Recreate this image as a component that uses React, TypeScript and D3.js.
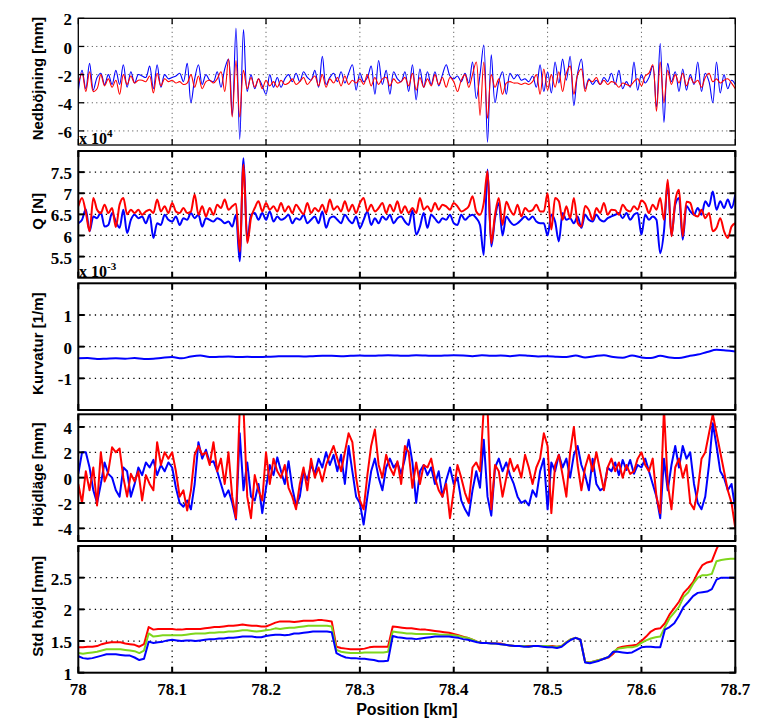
import React from "react";
import * as d3 from "d3";

// ---------- data ----------
const xTickValues = [78, 78.1, 78.2, 78.3, 78.4, 78.5, 78.6, 78.7];
const startKm = 78;
const denseStepKm = 0.004; // panels 1, 2, 4
const stdStepKm = 0.005; // panel 5
const kurvStepKm = 0.01; // panel 3

const nedBlue = [
  -3.2, -1.7, -3.0, -1.2, -3.1, -2.2, -1.9, -2.7, -2.0, -2.7,
  -1.7, -2.7, -1.3, -2.9, -1.8, -2.6, -2.0, -2.1, -2.2, -1.4,
  -3.0, -1.3, -2.9, -2.0, -2.3, -2.2, -2.1, -1.9, -2.5, -1.2,
  -4.0, -2.3, -1.3, -2.7, -2.0, -2.4, -2.5, -1.8, -2.9, -1.6,
  -0.9, -4.9, 1.3, -6.6, 1.2, -3.2, -2.0, -3.0, -2.3, -2.8,
  -3.4, -2.0, -2.9, -2.2, -2.9, -2.3, -2.0, -2.5, -1.9, -2.5,
  -1.8, -2.2, -2.4, -1.7, -2.9, -0.7, -2.7, -2.2, -1.9, -2.5,
  -1.8, -2.6, -1.9, -1.3, -3.1, -1.9, -2.5, -2.2, -1.4, -3.4,
  -1.0, -2.7, -1.7, -3.4, -1.8, -2.3, -2.5, -1.8, -3.2, -1.3,
  -3.8, -1.6, -2.9, -1.8, -2.7, -1.8, -2.8, -2.0, -1.3, -2.1,
  -2.3, -2.1, -2.5, -1.9, -2.6, -1.1, -3.7, -2.0, 0.1, -6.8,
  -0.6, -4.0, -2.5, -1.8, -3.4, -1.9, -2.3, -2.0, -2.4, -2.3,
  -2.5, -2.1, -2.9, -1.3, -3.2, -1.8, -3.3, -1.1, -2.6, -0.9,
  -2.4, -0.7, -4.2, -1.9, -0.9, -3.0, -2.3, -2.7, -2.4, -2.7,
  -2.2, -2.5, -1.9, -2.7, -1.7, -3.0, -2.5, -2.9, -1.1, -3.1,
  -2.0, -2.6, -2.2, -1.4, -4.3, 0.2, -5.4, -1.2, -2.5, -1.8,
  -3.2, -1.6, -3.1, -2.0, -2.7, -1.1, -3.2, -1.9, -2.5, -4.0,
  -1.1, -3.3, -2.0, -3.0, -2.4, -2.7,
];

const nedRed = [
  -2.7, -1.9, -3.2, -1.8, -3.2, -3.0, -2.0, -2.8, -2.3, -2.9,
  -2.4, -3.4, -2.0, -2.7, -2.1, -2.6, -2.4, -2.4, -2.5, -2.1,
  -3.3, -1.9, -2.8, -2.3, -2.5, -2.4, -2.6, -2.5, -2.7, -2.6,
  -2.0, -2.9, -2.1, -3.0, -2.5, -2.4, -2.6, -2.3, -1.8, -3.2,
  -0.9, -5.0, -1.0, -5.0, -1.7, -3.0, -2.2, -2.9, -2.3, -3.0,
  -2.4, -2.8, -2.5, -2.9, -2.4, -2.7, -2.6, -2.3, -2.7, -2.5,
  -2.2, -2.7, -2.4, -2.1, -2.8, -2.0, -2.9, -2.3, -2.6, -2.2,
  -2.8, -2.1, -2.7, -2.4, -2.6, -2.3, -2.7, -2.0, -2.8, -2.2,
  -2.7, -2.3, -2.2, -2.8, -2.3, -2.6, -2.5, -2.2, -2.8, -1.9,
  -3.1, -2.2, -2.9, -2.3, -2.8, -2.0, -2.7, -2.2, -2.9, -2.2,
  -2.5, -3.2, -2.4, -2.0, -2.9, -2.0, -1.1, -4.9, -1.1, -5.1,
  -2.0, -2.9, -2.3, -3.4, -2.6, -2.5, -2.6, -2.6, -2.7, -2.6,
  -2.7, -2.5, -2.0, -3.4, -1.6, -3.1, -2.0, -2.9, -1.8, -3.2,
  -1.9, -1.4, -3.4, -2.0, -1.6, -3.2, -2.4, -2.5, -2.2, -2.7,
  -2.4, -2.7, -2.5, -2.6, -2.9, -2.6, -2.7, -2.8, -2.5, -2.3,
  -2.8, -2.1, -1.9, -1.3, -4.6, -1.1, -4.0, -1.7, -2.7, -2.0,
  -2.6, -1.9, -2.8, -2.2, -2.6, -2.4, -2.9, -2.2, -1.9, -2.5,
  -2.3, -2.6, -2.4, -2.3, -2.6, -3.0,
];

const qBlue = [
  6.29, 6.37, 6.62, 6.1, 6.45, 6.41, 6.55, 6.21, 6.25, 6.53,
  6.33, 6.18, 6.61, 6.06, 6.37, 6.49, 6.41, 6.45, 6.29, 6.49,
  5.94, 6.29, 6.25, 6.49, 6.37, 6.33, 6.45, 6.25, 6.41, 6.37,
  6.53, 6.41, 6.49, 6.21, 6.41, 6.37, 6.33, 6.41, 6.37, 6.29,
  6.33, 6.21, 6.49, 5.39, 7.83, 5.86, 6.49, 6.53, 6.37, 6.53,
  6.37, 6.57, 6.33, 6.45, 6.37, 6.41, 6.49, 6.29, 6.41, 6.37,
  6.49, 6.29, 6.37, 6.45, 6.29, 6.57, 6.18, 6.41, 6.45, 6.37,
  6.29, 6.49, 6.37, 6.29, 6.45, 6.18, 6.37, 6.57, 6.25, 6.41,
  6.29, 6.45, 6.37, 6.49, 6.29, 6.41, 6.45, 6.33, 6.25, 6.6,
  6.02, 6.21, 6.53, 6.18, 6.49, 6.4, 6.3, 6.41, 6.37, 6.49,
  6.29, 6.25, 6.49, 6.37, 6.45, 6.49, 6.41, 6.25, 5.54, 7.56,
  5.74, 6.41, 6.77, 6.0, 6.45, 6.33, 6.25, 6.29, 6.37, 6.45,
  6.37, 6.45, 6.33, 6.29, 6.29, 6.0, 6.49, 6.33, 5.86, 6.53,
  6.37, 6.41, 6.29, 6.45, 6.18, 6.49, 6.37, 6.33, 6.49, 6.37,
  6.33, 6.41, 6.45, 6.49, 6.53, 6.41, 6.53, 6.37, 6.49, 6.53,
  6.02, 6.49, 6.37, 6.45, 6.37, 5.58, 6.1, 7.24, 6.0, 6.73,
  6.89, 5.9, 6.7, 6.57, 6.49, 6.65, 6.49, 6.81, 6.69, 7.04,
  6.61, 6.81, 6.65, 6.85, 6.65, 6.97,
];

const qRed = [
  6.69, 6.89, 6.55, 6.1, 6.89, 6.61, 6.53, 6.73, 6.53, 6.65,
  6.2, 6.73, 6.89, 6.5, 6.61, 6.53, 6.61, 6.49, 6.57, 6.61,
  6.53, 6.85, 6.57, 6.69, 6.53, 6.77, 6.57, 6.53, 6.65, 6.53,
  6.57, 6.97, 6.49, 6.69, 6.45, 6.65, 6.49, 6.73, 6.65, 6.85,
  6.61, 6.69, 6.75, 5.62, 7.68, 5.82, 6.41, 6.65, 6.81, 6.57,
  6.77, 6.61, 6.69, 6.57, 6.77, 6.57, 6.69, 6.53, 6.73, 6.61,
  6.5, 6.77, 6.53, 6.65, 6.57, 6.73, 6.53, 6.85, 6.61, 6.69,
  6.57, 6.81, 6.57, 6.73, 6.53, 6.77, 6.89, 6.57, 6.73, 6.57,
  6.65, 6.77, 6.53, 6.73, 6.57, 6.81, 6.53, 6.69, 6.53, 6.65,
  6.53, 6.89, 6.61, 6.69, 6.57, 6.77, 6.61, 6.73, 6.69, 6.61,
  6.77, 6.69, 6.57, 6.61, 6.69, 6.93, 6.57, 6.49, 6.77, 7.52,
  5.82, 6.49, 6.89, 6.25, 6.8, 6.61, 6.49, 6.73, 6.45, 6.65,
  6.57, 6.6, 6.73, 6.57, 6.57, 7.0, 6.14, 6.89, 6.81, 6.37,
  6.69, 6.41, 6.89, 6.3, 6.21, 6.7, 6.6, 6.37, 6.65, 6.53,
  6.77, 6.49, 6.61, 6.6, 6.49, 6.73, 6.61, 6.57, 6.69, 6.61,
  6.83, 6.75, 6.53, 6.73, 6.61, 6.89, 6.37, 7.32, 5.98, 6.81,
  7.08, 5.98, 6.8, 6.77, 6.49, 6.45, 6.61, 6.41, 6.53, 6.1,
  6.18, 6.41, 6.1, 5.94, 6.21, 6.29,
];

const kurvBlue = [
  -0.37, -0.36, -0.39, -0.38, -0.37, -0.38, -0.36, -0.39, -0.38, -0.35,
  -0.33, -0.37, -0.31, -0.28, -0.33, -0.32, -0.31, -0.33, -0.32, -0.33,
  -0.32, -0.31, -0.30, -0.30, -0.31, -0.30, -0.29, -0.29, -0.30, -0.29,
  -0.28, -0.29, -0.28, -0.27, -0.28, -0.29, -0.27, -0.28, -0.29, -0.28,
  -0.27, -0.28, -0.30, -0.27, -0.29, -0.28, -0.30, -0.27, -0.29, -0.31,
  -0.30, -0.32, -0.33, -0.28, -0.34, -0.30, -0.27, -0.33, -0.35, -0.28,
  -0.34, -0.36, -0.29, -0.34, -0.36, -0.30, -0.25, -0.17, -0.10, -0.12,
  -0.15,
];

const hojdBlue = [
  0.3, 2.0, 2.0, 0.8, -1.0, -2.0, -0.5, 1.2, 0.3, 0.0,
  -1.0, -1.5, 0.8, 0.5, -1.5, -0.5, 0.8, 0.2, 1.2, 0.8,
  1.4, 0.2, 1.0, 0.5, 1.2, 0.8, -0.8, -2.0, -2.3, -1.8,
  -2.5, -0.5, 2.8, 1.5, 2.2, 1.2, 1.3, 0.5, -0.5, -1.5,
  -1.0, -2.0, -3.3, 3.5, -1.0, 1.2, -1.5, -1.8, -0.5, -2.8,
  -0.8, 1.0, 0.2, 1.6, 0.5, -0.5, 1.3, -0.8, -2.2, -1.5,
  0.5, -0.2, 1.0, 0.3, 1.5, 0.8, 2.0, 1.0, 1.8, 0.5,
  1.8, -0.5, 2.5, 0.5, -1.5, -2.0, -3.7, -1.5, 0.5, 1.5,
  0.0, -1.0, 0.8, 1.5, 0.8, 1.2, 0.3, 1.5, 3.0, 1.2,
  -2.0, 0.5, 1.0, 0.2, 0.8, -0.5, 0.5, -1.5, -0.2, 0.8,
  -0.5, 0.0, -1.8, -2.5, -3.0, -1.0, 0.5, -0.8, 3.0, -1.5,
  -3.0, 0.8, 1.5, 0.5, 1.2, 0.2, -0.5, -1.5, -2.0, -1.8,
  -2.2, -1.0, -1.5, 0.5, 1.5, -2.5, 1.2, 0.5, 1.8, 0.8,
  1.5, 0.0, 1.8, 2.5, 1.0, 0.2, -1.0, 1.5, -0.5, -1.0,
  -0.8, 0.8, 0.5, 1.2, 0.2, 1.4, 0.6, 1.4, 0.3, 1.0,
  0.8, 1.5, 0.5, -0.5, -1.5, -3.2, 1.5, -1.0, 1.0, 2.5,
  0.8, 2.5, 1.5, 2.0, -0.5, -2.0, -2.5, -1.5, 1.0, 4.3,
  2.5, 0.5, 0.0, -1.0, -0.5, -2.5,
];

const hojdRed = [
  -0.5, -2.0, 0.5, -1.0, 0.8, -2.2, 2.0, -0.3, 0.5, 2.4,
  2.0, 2.3, 0.0, -1.5, 0.3, -0.3, 0.5, -1.8, 0.2, -0.5,
  -1.0, 2.8, 1.0, 2.0, 1.5, 2.0, 0.5, -1.5, -1.0, -2.6,
  -1.0, 1.8, 2.5, 1.8, 2.0, 1.0, 2.8, 0.5, 1.5, -0.5,
  2.0, -1.5, -3.2, 5.5, 5.5, -1.5, -3.2, 0.2, -1.0, -1.8,
  2.0, -0.5, 1.5, 0.5, 0.0, 1.0, -0.8, -1.5, -2.5, -0.5,
  0.8, -1.0, 1.5, 0.0, 0.8, -0.3, 1.0, 1.8, 2.5, 1.5,
  0.5, 2.0, 3.5, 2.8, 0.0, -1.8, -2.5, 0.2, 2.5, 3.8,
  1.0, 0.0, 1.8, 0.8, 0.2, 1.3, -0.5, 2.5, 2.0, -0.8,
  1.2, -0.5, 1.0, 0.8, 1.5, 0.0, -1.0, -1.5, -0.5, -3.2,
  -1.0, 1.0, 0.0, -1.2, -2.0, 0.8, 1.2, 0.5, 5.5, 5.5,
  -2.5, 1.0, 0.5, -1.5, 0.0, 1.5, 0.5, 1.0, 0.0, 1.8,
  0.8, -0.5, 0.8, 1.5, 3.5, 2.5, -2.8, 1.0, 1.8, 0.2,
  -1.5, 2.0, 4.0, 1.0, -1.0, 0.8, 1.8, 0.5, 2.0, 0.5,
  -1.0, 0.8, 1.5, 0.5, 1.2, 0.0, 1.0, 0.3, 0.5, 1.5,
  2.0, 1.0, 0.5, 1.5, -1.5, -2.8, 5.5, -0.5, -2.5, 0.8,
  1.5, 0.0, 1.0, -2.0, -2.5, -1.0, 1.5, 2.0, 3.5, 5.0,
  3.5, 2.0, 0.5, -1.0, -2.0, -4.0,
];

const stdRed = [
  1.40, 1.40, 1.41, 1.41, 1.42, 1.45, 1.47, 1.48, 1.48, 1.48,
  1.46, 1.45, 1.44, 1.41, 1.45, 1.72, 1.68, 1.69, 1.69, 1.69,
  1.69, 1.68, 1.68, 1.69, 1.69, 1.69, 1.69, 1.70, 1.71, 1.72,
  1.72, 1.73, 1.74, 1.74, 1.75, 1.76, 1.75, 1.74, 1.74, 1.73,
  1.73, 1.76, 1.79, 1.81, 1.81, 1.81, 1.80, 1.81, 1.82, 1.82,
  1.82, 1.83, 1.83, 1.82, 1.81, 1.41, 1.39, 1.38, 1.37, 1.37,
  1.37, 1.38, 1.40, 1.41, 1.41, 1.41, 1.41, 1.73, 1.72, 1.71,
  1.70, 1.70, 1.69, 1.68, 1.68, 1.67, 1.66, 1.65, 1.64, 1.63,
  1.61, 1.59, 1.57, 1.55, 1.52, 1.49, 1.47, 1.47, 1.47, 1.46,
  1.46, 1.44, 1.43, 1.42, 1.42, 1.42, 1.42, 1.42, 1.42, 1.42,
  1.42, 1.42, 1.41, 1.42, 1.48, 1.53, 1.55, 1.52, 1.17, 1.16,
  1.18, 1.20, 1.22, 1.24, 1.30, 1.39, 1.41, 1.42, 1.43, 1.44,
  1.50, 1.57, 1.65, 1.69, 1.70, 1.78, 1.92, 2.02, 2.12, 2.26,
  2.34, 2.43, 2.58, 2.70, 2.74, 2.76, 2.95, 3.1, 3.2, 3.3,
  3.4,
];

const stdGreen = [
  1.31, 1.30, 1.31, 1.32, 1.33, 1.35, 1.37, 1.37, 1.37, 1.37,
  1.36, 1.35, 1.34, 1.31, 1.35, 1.62, 1.57, 1.58, 1.59, 1.59,
  1.59, 1.59, 1.59, 1.60, 1.61, 1.62, 1.62, 1.62, 1.63, 1.63,
  1.64, 1.64, 1.65, 1.65, 1.66, 1.67, 1.67, 1.66, 1.65, 1.66,
  1.67, 1.68, 1.70, 1.69, 1.70, 1.71, 1.71, 1.72, 1.73, 1.74,
  1.74, 1.74, 1.74, 1.74, 1.73, 1.36, 1.33, 1.32, 1.31, 1.31,
  1.31, 1.32, 1.32, 1.32, 1.32, 1.32, 1.33, 1.65, 1.64, 1.63,
  1.62, 1.62, 1.61, 1.61, 1.61, 1.61, 1.61, 1.60, 1.60, 1.60,
  1.59, 1.58, 1.56, 1.55, 1.52, 1.49, 1.47, 1.47, 1.46, 1.46,
  1.45, 1.44, 1.43, 1.42, 1.42, 1.42, 1.41, 1.42, 1.42, 1.42,
  1.42, 1.41, 1.41, 1.42, 1.48, 1.53, 1.55, 1.52, 1.17, 1.16,
  1.18, 1.20, 1.22, 1.25, 1.33, 1.38, 1.39, 1.40, 1.40, 1.42,
  1.47, 1.51, 1.54, 1.56, 1.57, 1.72, 1.86, 1.95, 2.04, 2.20,
  2.27, 2.40, 2.50, 2.54, 2.54, 2.56, 2.76, 2.78, 2.79, 2.80,
  2.80,
];

const stdBlue = [
  1.26, 1.23, 1.22, 1.23, 1.25, 1.27, 1.29, 1.29, 1.29, 1.28,
  1.27, 1.27, 1.24, 1.20, 1.22, 1.49, 1.47, 1.48, 1.49, 1.51,
  1.52, 1.51, 1.50, 1.51, 1.51, 1.50, 1.51, 1.52, 1.53, 1.53,
  1.54, 1.54, 1.55, 1.55, 1.56, 1.57, 1.57, 1.57, 1.56, 1.56,
  1.58, 1.59, 1.60, 1.60, 1.59, 1.60, 1.62, 1.62, 1.63, 1.64,
  1.65, 1.65, 1.65, 1.65, 1.64, 1.31, 1.27, 1.24, 1.23, 1.23,
  1.22, 1.22, 1.21, 1.20, 1.18, 1.18, 1.19, 1.58, 1.56, 1.55,
  1.54, 1.54, 1.53, 1.54, 1.55, 1.56, 1.57, 1.57, 1.57, 1.57,
  1.56, 1.55, 1.53, 1.52, 1.50, 1.48, 1.47, 1.47, 1.46, 1.46,
  1.45, 1.44, 1.43, 1.42, 1.42, 1.41, 1.41, 1.42, 1.42, 1.41,
  1.40, 1.40, 1.39, 1.41, 1.47, 1.52, 1.55, 1.52, 1.16, 1.15,
  1.17, 1.19, 1.22, 1.25, 1.33, 1.33, 1.32, 1.31, 1.32, 1.36,
  1.40, 1.41, 1.41, 1.40, 1.40, 1.68, 1.72, 1.78, 1.90, 2.04,
  2.12, 2.21, 2.26, 2.27, 2.28, 2.32, 2.47, 2.50, 2.50, 2.50,
  2.50,
];

const panelLabels = ["Nedböjning [mm]", "Q [N]", "Kurvatur [1/m]", "Höjdläge [mm]", "Std höjd [mm]"];
const panelYTicks = [
  [-6, -4, -2, 0, 2],
  [5.5, 6, 6.5, 7, 7.5],
  [-1, 0, 1],
  [-4, -2, 0, 2, 4],
  [1, 1.5, 2, 2.5],
];
const panelDomains: [number, number][] = [
  [-7, 2],
  [5, 8],
  [-2, 2],
  [-5, 5],
  [1, 3],
];
const xAxisLabel = "Position [km]";

// ---------- layout ----------
const W = 774;
const H = 727;
const PLOT_L = 78.3;
const PLOT_R = 735.3;
const panelTops = [18.3, 151, 283.3, 414.3, 546];
const PANEL_H = 126.7;

const BLUE = "#0000ff";
const RED = "#ff0000";
const GREEN = "#7fd61c";

const SERIF = "Liberation Serif, Times New Roman, serif";
const SANS = "Liberation Sans, Arial, Helvetica, sans-serif";

type Series = { values: number[]; step: number; color: string; width: number };

const x = d3.scaleLinear().domain([78, 78.7]).range([PLOT_L, PLOT_R]);

const panelSeries: Series[][] = [
  [
    { values: nedBlue, step: denseStepKm, color: BLUE, width: 1.1 },
    { values: nedRed, step: denseStepKm, color: RED, width: 1.1 },
  ],
  [
    { values: qBlue, step: denseStepKm, color: BLUE, width: 2 },
    { values: qRed, step: denseStepKm, color: RED, width: 2 },
  ],
  [{ values: kurvBlue, step: kurvStepKm, color: BLUE, width: 2 }],
  [
    { values: hojdBlue, step: denseStepKm, color: BLUE, width: 2 },
    { values: hojdRed, step: denseStepKm, color: RED, width: 2 },
  ],
  [
    { values: stdRed, step: stdStepKm, color: RED, width: 2 },
    { values: stdGreen, step: stdStepKm, color: GREEN, width: 2 },
    { values: stdBlue, step: stdStepKm, color: BLUE, width: 2 },
  ],
];

const panelCurves = [
  d3.curveCatmullRom.alpha(0.5),
  d3.curveMonotoneX,
  d3.curveMonotoneX,
  d3.curveLinear,
  d3.curveLinear,
];

function Panel({ idx }: { idx: number }) {
  const top = panelTops[idx];
  const bottom = top + PANEL_H;
  const y = d3.scaleLinear().domain(panelDomains[idx]).range([bottom, top]);
  const thin = idx === 0;
  const frameW = thin ? 1.3 : 2;
  const gridColor = thin ? "#444" : "#000";
  const gridW = thin ? 1 : 1.3;
  const dash = thin ? "1 3.5" : "1.3 4.2";
  const tickLen = 6;
  const clipId = `clip-${idx}`;
  const innerX = xTickValues.filter((v) => v > 78.0001 && v < 78.6999);
  const innerY = panelYTicks[idx].filter(
    (v) => v > panelDomains[idx][0] + 1e-6 && v < panelDomains[idx][1] - 1e-6
  );
  const mid = (top + bottom) / 2;
  return (
    <g>
      <defs>
        <clipPath id={clipId}>
          <rect x={PLOT_L} y={top} width={PLOT_R - PLOT_L} height={PANEL_H} />
        </clipPath>
      </defs>
      <rect x={PLOT_L} y={top} width={PLOT_R - PLOT_L} height={PANEL_H} fill="#fff" />
      {innerX.map((v) => (
        <line
          key={`gx${v}`}
          x1={x(v)}
          x2={x(v)}
          y1={top}
          y2={bottom}
          stroke={gridColor}
          strokeWidth={gridW}
          strokeDasharray={dash}
        />
      ))}
      {innerY.map((v) => (
        <line
          key={`gy${v}`}
          x1={PLOT_L}
          x2={PLOT_R}
          y1={y(v)}
          y2={y(v)}
          stroke={gridColor}
          strokeWidth={gridW}
          strokeDasharray={dash}
        />
      ))}
      <g clipPath={`url(#${clipId})`}>
        {panelSeries[idx].map((s, k) => {
          const line = d3
            .line<number>()
            .x((_, i) => x(startKm + i * s.step))
            .y((d) => y(d))
            .curve(panelCurves[idx]);
          return (
            <path
              key={k}
              d={line(s.values) || ""}
              fill="none"
              stroke={s.color}
              strokeWidth={s.width}
              strokeLinejoin="round"
            />
          );
        })}
      </g>
      {xTickValues.map((v) => (
        <g key={`tx${v}`}>
          <line x1={x(v)} x2={x(v)} y1={bottom} y2={bottom - tickLen} stroke="#000" strokeWidth={frameW} />
          <line x1={x(v)} x2={x(v)} y1={top} y2={top + tickLen} stroke="#000" strokeWidth={frameW} />
        </g>
      ))}
      {panelYTicks[idx].map((v) => (
        <g key={`ty${v}`}>
          <line x1={PLOT_L} x2={PLOT_L + tickLen} y1={y(v)} y2={y(v)} stroke="#000" strokeWidth={frameW} />
          <line x1={PLOT_R} x2={PLOT_R - tickLen} y1={y(v)} y2={y(v)} stroke="#000" strokeWidth={frameW} />
        </g>
      ))}
      <rect
        x={PLOT_L}
        y={top}
        width={PLOT_R - PLOT_L}
        height={PANEL_H}
        fill="none"
        stroke="#000"
        strokeWidth={frameW}
      />
      {panelYTicks[idx].map((v) => (
        <text
          key={`ly${v}`}
          x={72}
          y={y(v)}
          dy="0.42em"
          textAnchor="end"
          fontFamily={SERIF}
          fontWeight="bold"
          fontSize={17}
          fill="#000"
        >
          {String(v)}
        </text>
      ))}
      <text
        transform={`translate(37,${mid - 3}) rotate(-90)`}
        textAnchor="middle"
        dominantBaseline="central"
        fontFamily={SANS}
        fontWeight="bold"
        fontSize={15}
        fill="#000"
      >
        {panelLabels[idx]}
      </text>
    </g>
  );
}

export default function App() {
  const bottom = panelTops[4] + PANEL_H;
  return (
    <svg width={W} height={H} style={{ display: "block", position: "absolute", left: 0, top: 0, background: "#fff" }}>
      <rect x={0} y={0} width={W} height={H} fill="#fff" />
      {panelLabels.map((_, i) => (
        <Panel key={i} idx={i} />
      ))}
      {xTickValues.map((v) => (
        <text
          key={`lx${v}`}
          x={x(v)}
          y={bottom + 22}
          textAnchor="middle"
          fontFamily={SERIF}
          fontWeight="bold"
          fontSize={17}
          fill="#000"
        >
          {String(v)}
        </text>
      ))}
      <text
        x={(PLOT_L + PLOT_R) / 2}
        y={bottom + 42}
        textAnchor="middle"
        fontFamily={SANS}
        fontWeight="bold"
        fontSize={16}
        fill="#000"
      >
        {xAxisLabel}
      </text>
      <text x={79} y={144} fontFamily={SERIF} fontWeight="bold" fontSize={16} fill="#000">
        x 10<tspan dy={-7} fontSize={11}>4</tspan>
      </text>
      <text x={79} y={277} fontFamily={SERIF} fontWeight="bold" fontSize={16} fill="#000">
        x 10<tspan dy={-7} fontSize={11}>-3</tspan>
      </text>
    </svg>
  );
}
